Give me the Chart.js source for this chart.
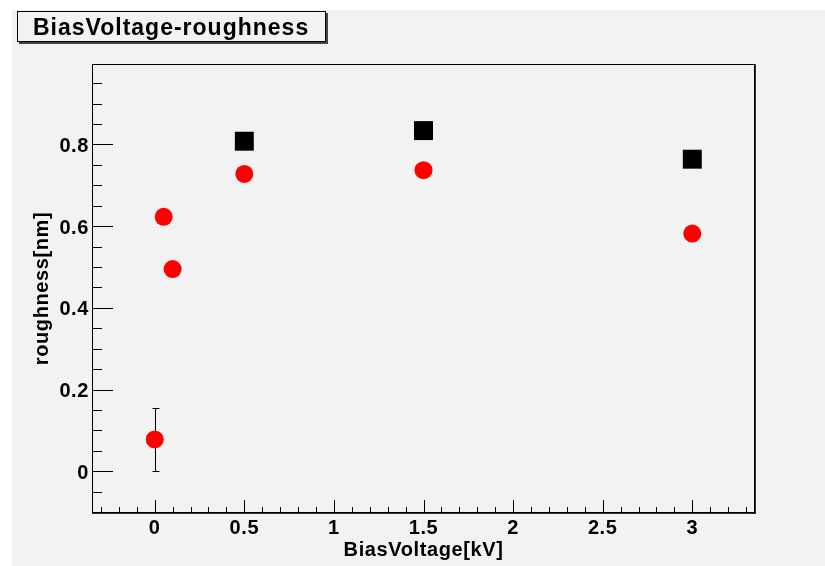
<!DOCTYPE html>
<html>
<head>
<meta charset="utf-8">
<script src="https://cdn.jsdelivr.net/npm/chart.js@4.4.1/dist/chart.umd.min.js"></script>
<style>
  html, body { margin: 0; padding: 0; background: #ffffff; }
  canvas { display: block; }
</style>
</head>
<body>
<canvas id="roughness" width="825" height="566"></canvas>
<script>
// BiasVoltage vs roughness, drawn in a ROOT-like frame (inward ticks, boxed title).

const biasVoltage = [0, 0.05, 0.1, 0.5, 1.5, 3];
const roughnessCircle = [0.078, 0.623, 0.495, 0.728, 0.737, 0.582];
const roughnessCircleErr = [0.078, 0, 0, 0, 0, 0];

const biasVoltageSquare = [0.5, 1.5, 3];
const roughnessSquare = [0.808, 0.834, 0.764];

const xTickValues = [0, 0.5, 1, 1.5, 2, 2.5, 3];
const xTickLabels = ["0", "0.5", "1", "1.5", "2", "2.5", "3"];
const yTickValues = [0, 0.2, 0.4, 0.6, 0.8];
const yTickLabels = ["0", "0.2", "0.4", "0.6", "0.8"];

const titleText = "BiasVoltage-roughness";
const xTitle = "BiasVoltage[kV]";
const yTitle = "roughness[nm]";

const FONT = "'Liberation Sans', Arial, Helvetica, sans-serif";
const PAD_COLOR = "#f2f2f2";

function setText(ctx, size, spacing) {
  ctx.font = "bold " + size + "px " + FONT;
  ctx.fillStyle = "#000000";
  ctx.letterSpacing = spacing + "px";
}

const rootPad = {
  id: "rootPad",
  beforeDraw(chart) {
    const { ctx, width, height } = chart;
    ctx.save();
    ctx.fillStyle = "#ffffff";
    ctx.fillRect(0, 0, width, height);
    ctx.fillStyle = PAD_COLOR;
    ctx.fillRect(12, 10, width - 12, height - 10);

    // title box with a drop shadow
    ctx.fillStyle = "#444444";
    ctx.fillRect(19, 13, 309, 31);
    ctx.fillStyle = PAD_COLOR;
    ctx.fillRect(17, 11, 309, 31);
    ctx.strokeStyle = "#000000";
    ctx.lineWidth = 1;
    ctx.strokeRect(17.5, 11.5, 308, 30);
    setText(ctx, 23, 1);
    ctx.textAlign = "left";
    ctx.textBaseline = "alphabetic";
    ctx.fillText(titleText, 33, 34.5);
    ctx.restore();
  },

  beforeDatasetsDraw(chart) {
    // vertical error bars under the circle markers
    const { ctx, scales: { x, y } } = chart;
    ctx.save();
    ctx.strokeStyle = "#000000";
    ctx.lineWidth = 1;
    ctx.beginPath();
    biasVoltage.forEach((v, i) => {
      const e = roughnessCircleErr[i];
      if (!e) return;
      const px = Math.round(x.getPixelForValue(v)) + 0.5;
      const top = Math.round(y.getPixelForValue(roughnessCircle[i] + e)) + 0.5;
      const bot = Math.round(y.getPixelForValue(roughnessCircle[i] - e)) + 0.5;
      ctx.moveTo(px, top); ctx.lineTo(px, bot);
      ctx.moveTo(px - 3, top); ctx.lineTo(px + 4, top);
      ctx.moveTo(px - 3, bot); ctx.lineTo(px + 4, bot);
    });
    ctx.stroke();
    ctx.restore();
  },

  afterDatasetsDraw(chart) {
    const { ctx, chartArea: a, scales: { x, y } } = chart;
    ctx.save();

    // frame
    ctx.strokeStyle = "#000000";
    ctx.lineWidth = 1;
    ctx.strokeRect(a.left + 0.5, a.top + 0.5, a.right - a.left - 1, a.bottom - a.top - 1);
    ctx.strokeStyle = "#333333";
    ctx.beginPath();
    ctx.moveTo(a.right + 0.5, a.top); ctx.lineTo(a.right + 0.5, a.bottom + 1);
    ctx.moveTo(a.left, a.bottom + 0.5); ctx.lineTo(a.right + 1, a.bottom + 0.5);
    ctx.stroke();

    // inward tick marks: x every 0.1, y every 0.05
    ctx.strokeStyle = "#000000";
    ctx.beginPath();
    for (let i = -3; i <= 33; i++) {
      const px = Math.round(x.getPixelForValue(i / 10)) + 0.5;
      const len = i % 5 === 0 ? 13 : 6;
      ctx.moveTo(px, a.bottom); ctx.lineTo(px, a.bottom - len);
    }
    for (let i = -1; i <= 19; i++) {
      const py = Math.round(y.getPixelForValue(i / 20)) + 0.5;
      const len = i % 4 === 0 ? 21 : 10;
      ctx.moveTo(a.left, py); ctx.lineTo(a.left + len, py);
    }
    ctx.stroke();

    // tick labels
    setText(ctx, 20, 0.6);
    ctx.textBaseline = "alphabetic";
    ctx.textAlign = "center";
    xTickValues.forEach((v, i) => {
      ctx.fillText(xTickLabels[i], x.getPixelForValue(v), 534);
    });
    ctx.textAlign = "right";
    yTickValues.forEach((v, i) => {
      ctx.fillText(yTickLabels[i], a.left - 3, y.getPixelForValue(v) + 7.5);
    });

    // axis titles, centred on the frame
    ctx.textAlign = "center";
    ctx.fillText(xTitle, (a.left + a.right) / 2, 556);
    ctx.translate(47.5, (a.top + a.bottom) / 2);
    ctx.rotate(-Math.PI / 2);
    ctx.fillText(yTitle, 0, 0);
    ctx.restore();
  }
};

new Chart(document.getElementById("roughness").getContext("2d"), {
  type: "scatter",
  data: {
    datasets: [
      {
        label: "circles",
        data: biasVoltage.map((v, i) => ({ x: v, y: roughnessCircle[i] })),
        pointStyle: "circle",
        pointRadius: 9,
        backgroundColor: "#ff0000",
        borderWidth: 0,
      },
      {
        label: "squares",
        data: biasVoltageSquare.map((v, i) => ({ x: v, y: roughnessSquare[i] })),
        pointStyle: "rect",
        pointRadius: 13.4,
        backgroundColor: "#000000",
        borderWidth: 0,
      },
    ],
  },
  options: {
    responsive: false,
    animation: false,
    events: [],
    layout: { padding: { left: 92, top: 64, right: 70, bottom: 53 } },
    plugins: {
      legend: { display: false },
      tooltip: { enabled: false },
    },
    scales: {
      x: { type: "linear", min: -0.35, max: 3.35, display: false },
      y: { type: "linear", min: -0.102, max: 0.997, display: false },
    },
  },
  plugins: [rootPad],
});
</script>
</body>
</html>
